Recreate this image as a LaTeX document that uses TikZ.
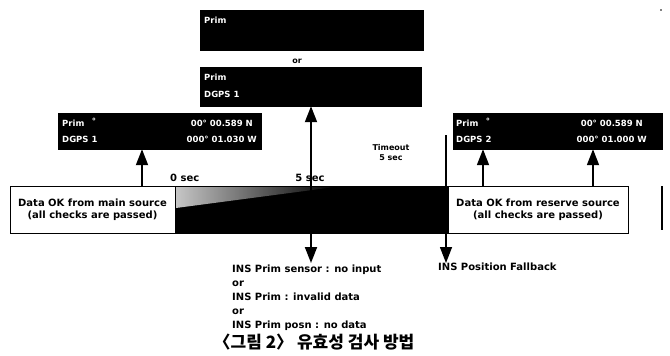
\documentclass[tikz,border=0pt]{standalone}
\usepackage{fontspec}
\setmainfont{DejaVu Sans}
\newfontfamily\krfont{Noto Sans CJK KR}
\usetikzlibrary{arrows.meta,positioning,calc}

\begin{document}
\begin{tikzpicture}[x=1pt, y=-1pt, >={Triangle[length=16pt,width=12pt]}]
  \tikzset{
    screen/.style={fill=black, draw=black, inner sep=0pt},
    scrtext/.style={text=white, font=\fontsize{8.5}{11}\selectfont\bfseries, inner sep=0pt},
    okbox/.style={draw=black, fill=white, inner sep=0pt, align=center,
      font=\fontsize{10}{12}\selectfont\bfseries},
    lbl/.style={font=\fontsize{10}{14}\selectfont\bfseries, inner sep=0pt},
    small/.style={font=\fontsize{8}{10}\selectfont\bfseries, inner sep=0pt, align=center},
    thick arrow/.style={line width=1.8pt},
  }
  \useasboundingbox (0,0) rectangle (670,356);

  % --- upper displays ---
  \node[screen, minimum width=223pt, minimum height=40pt] (scr1) at (311.5,30) {};
  \node[scrtext, anchor=west] (p1) at (204,20) {Prim};
  \node[small] (or1) at (297,61) {or};
  \node[screen, minimum width=221pt, minimum height=39pt] (scr2) at (310.5,86.5) {};
  \node[scrtext, anchor=west] (p2) at (204,77) {Prim};
  \node[scrtext, anchor=west] (d2) at (204,94) {DGPS 1};

  % --- main source display ---
  \node[screen, minimum width=203pt, minimum height=36pt] (gps1) at (159.5,131) {};
  \node[scrtext, anchor=west] (gps1a) at (62,123) {Prim};
  \node[scrtext] (gps1b) at (94,121) {°};
  \node[scrtext, anchor=west] (gps1c) at (62,139) {DGPS 1};
  \node[scrtext, anchor=east] (gps1d) at (253,123) {00° 00.589 N};
  \node[scrtext, anchor=east] (gps1e) at (257,139) {000° 01.030 W};

  % --- reserve source display ---
  \node[screen, minimum width=209pt, minimum height=36pt] (gps2) at (557.5,131) {};
  \node[scrtext, anchor=west] (gps2a) at (456,123) {Prim};
  \node[scrtext] (gps2b) at (488,121) {°};
  \node[scrtext, anchor=west] (gps2c) at (456,139) {DGPS 2};
  \node[scrtext, anchor=east] (gps2d) at (643,123) {00° 00.589 N};
  \node[scrtext, anchor=east] (gps2e) at (647,139) {000° 01.000 W};

  % --- time bar ---
  \node[okbox, minimum width=165pt, minimum height=47pt] (okmain) at (92.5,209.5)
    {Data OK from main source\\(all checks are passed)};
  \node[screen, minimum width=273pt, minimum height=47pt] (gap) at (311.5,209.5) {};
  \shade[left color=gray!45, right color=black]
    (176,187) -- (335,187) -- (176,208) -- cycle;
  \node[okbox, minimum width=180pt, minimum height=47pt] (okres) at (538,209.5)
    {Data OK from reserve source\\(all checks are passed)};

  % --- time labels ---
  \node[lbl, anchor=west] (t0) at (170,178) {0 sec};
  \node[lbl] (t5) at (310,178) {5 sec};
  \node[small] (tout) at (391,153) {Timeout\\5 sec};

  % --- arrows ---
  \coordinate (u1) at (142,186);
  \draw[thick arrow, ->] (u1) -- (u1 |- gps1.south);
  \coordinate (m0) at (311,263);
  \draw[thick arrow, <->] (m0) -- (m0 |- scr2.south);
  \coordinate (f0) at (446,135);
  \coordinate (f1) at (446,263);
  \draw[line width=1.4pt, ->] (f0) -- (f1);
  \coordinate (u2) at (483,186);
  \coordinate (u3) at (593,186);
  \draw[thick arrow, ->] (u2) -- (u2 |- gps2.south);
  \draw[thick arrow, ->] (u3) -- (u3 |- gps2.south);

  % --- results ---
  \node[lbl, anchor=west, align=left] (fail) at (232,298)
    {INS Prim sensor : no input\\or\\INS Prim : invalid data\\or\\INS Prim posn : no data};
  \node[lbl, anchor=north west] (fallback) at (438,263) {INS Position Fallback};

  % --- caption and scan marks ---
  \node[font=\krfont\bfseries\fontsize{17}{19}\selectfont, inner sep=0pt] (cap) at (314,342)
    {〈그림 2〉 유효성 검사 방법};
  \coordinate (e0) at (662,186);
  \coordinate (e1) at (662,230);
  \draw[line width=1.5pt] (e0) -- (e1);
  \fill (661,10) circle (0.8pt);
\end{tikzpicture}
\end{document}
